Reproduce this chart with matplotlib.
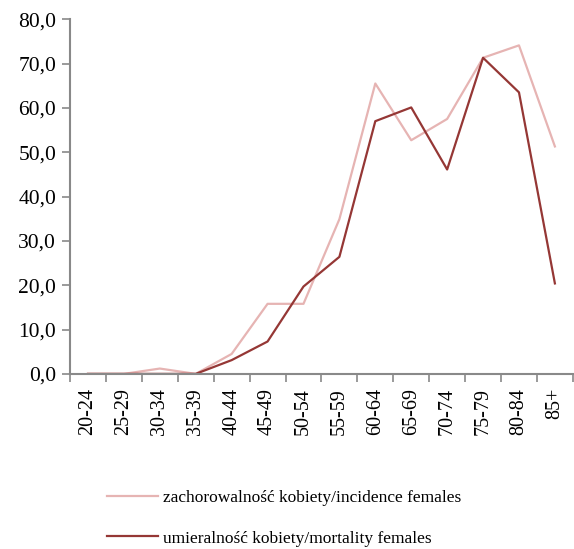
import matplotlib.pyplot as plt
import matplotlib.ticker as mticker

age_groups = ['20-24', '25-29', '30-34', '35-39', '40-44', '45-49', '50-54',
              '55-59', '60-64', '65-69', '70-74', '75-79', '80-84', '85+']
incidence = [0.0, 0.0, 1.2, 0.0, 4.5, 15.8, 15.8, 34.9, 65.5, 52.7, 57.5, 71.3, 74.1, 51.3]
mortality = [0.0, 0.0, 0.0, 0.0, 3.1, 7.3, 19.7, 26.4, 57.0, 60.1, 46.1, 71.3, 63.5, 20.4]

plt.rcParams['font.family'] = ['Liberation Serif', 'DejaVu Serif']

fig = plt.figure(figsize=(5.74, 5.49), dpi=100)
ax = fig.add_axes([0.122, 0.319, 0.876, 0.646])

x = range(len(age_groups))
ax.plot(x, incidence, color='#E6B4B3', lw=1.6, label='zachorowalność kobiety/incidence females')
ax.plot(x, mortality, color='#953735', lw=1.6, label='umieralność kobiety/mortality females')

ax.set_ylim(0, 80)
ax.set_xlim(-0.5, len(age_groups) - 0.5)
ax.yaxis.set_major_locator(mticker.MultipleLocator(10))
ax.yaxis.set_major_formatter(mticker.FuncFormatter(lambda v, p: f'{v:.1f}'.replace('.', ',')))

# labels centred on categories, tick marks on the category boundaries
ax.set_xticks(list(x))
ax.set_xticklabels(age_groups, rotation=90)
ax.set_xticks([i - 0.5 for i in range(len(age_groups) + 1)], minor=True)
ax.tick_params(axis='x', which='major', length=0, pad=10, labelsize=14.5)
ax.tick_params(axis='x', which='minor', length=6, width=1.2, color='#898989', direction='out')
ax.tick_params(axis='y', length=6, width=1.2, color='#898989', labelsize=15.5, pad=4)

for s in ['top', 'right']:
    ax.spines[s].set_visible(False)
for s in ['left', 'bottom']:
    ax.spines[s].set_color('#898989')
    ax.spines[s].set_linewidth(1.5)

fig.legend(loc='upper left', bbox_to_anchor=(0.16, 0.136), frameon=False,
           fontsize=12.5, labelspacing=1.4, handlelength=2.9, handletextpad=0.3)

fig.savefig('out.png', dpi=100)
